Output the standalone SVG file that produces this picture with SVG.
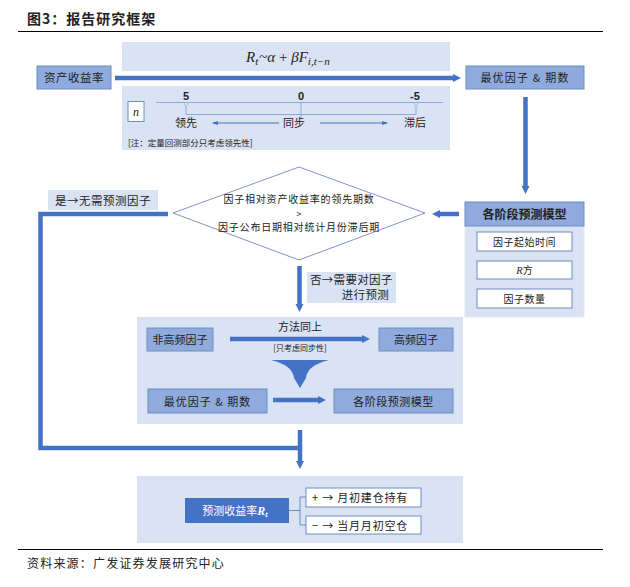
<svg xmlns="http://www.w3.org/2000/svg" width="630" height="587" viewBox="0 0 630 587">
<style>
  .cjk { font-family: "Noto Sans CJK SC", "Noto Sans", sans-serif; fill: #222; }
  .panel { fill: #DAE3F3; }
  .box { fill: #8FAADC; stroke: #6C8EBF; stroke-width: 1; }
  .wbox { fill: #FFFFFF; stroke: #6C8EBF; stroke-width: 1; }
  .thick { fill: none; stroke: #4472C4; stroke-width: 4.5; }
  .thin { fill: none; stroke: #8FAADC; stroke-width: 1; }
  .math { font-family: "Liberation Serif", "DejaVu Serif", serif; font-style: italic; fill: #222; }
</style>
<defs>
  <marker id="ah" markerWidth="10" markerHeight="10" refX="2" refY="5" orient="auto" markerUnits="userSpaceOnUse">
    <path d="M0,1 L8,5 L0,9 Z" fill="#4472C4"/>
  </marker>
  <marker id="ahs" markerWidth="6" markerHeight="6" refX="5" refY="3" orient="auto" markerUnits="userSpaceOnUse">
    <path d="M0,1 L6,3 L0,5 Z" fill="#4472C4"/>
  </marker>
</defs>

<!-- title and rules -->
<text x="27" y="24" class="cjk" font-size="14" font-weight="bold" letter-spacing="1">图3：报告研究框架</text>
<line x1="18" y1="31.5" x2="603" y2="31.5" stroke="#000" stroke-width="1"/>
<line x1="18" y1="549.5" x2="603" y2="549.5" stroke="#000" stroke-width="1"/>
<text x="27" y="568" class="cjk" font-size="12" letter-spacing="1.2">资料来源：广发证券发展研究中心</text>

<!-- top panels -->
<g id="formula">
  <rect x="122" y="42" width="328" height="29" class="panel"/>
  <text x="246" y="62" class="math" font-size="15">R<tspan font-size="11" dy="3">t</tspan><tspan dy="-3" dx="1" font-style="normal">~</tspan>α<tspan font-style="normal"> + </tspan>βF<tspan font-size="11" dy="3">i,t−n</tspan></text>
</g>
<g id="timeline">
  <rect x="122" y="86" width="328" height="64" class="panel"/>
  <rect x="128" y="101.5" width="16" height="20" class="wbox"/>
  <text x="136" y="116" class="math" font-size="12" text-anchor="middle">n</text>
  <line x1="156" y1="102.5" x2="443" y2="102.5" class="thin"/>
  <polyline points="186,102.5 186,114.5 416,114.5 416,102.5" class="thin"/>
  <line x1="301" y1="102.5" x2="301" y2="118" class="thin"/>
  <circle cx="186" cy="104" r="1.5" fill="#fff" stroke="#8FAADC" stroke-width="0.8"/>
  <circle cx="416" cy="104" r="1.5" fill="#fff" stroke="#8FAADC" stroke-width="0.8"/>
  <text x="186" y="100" font-family="Liberation Sans, Arial, sans-serif" font-size="11" font-weight="bold" text-anchor="middle" fill="#222">5</text>
  <text x="301" y="100" font-family="Liberation Sans, Arial, sans-serif" font-size="11" font-weight="bold" text-anchor="middle" fill="#222">0</text>
  <text x="415" y="100" font-family="Liberation Sans, Arial, sans-serif" font-size="11" font-weight="bold" text-anchor="middle" fill="#222">-5</text>
  <text x="186" y="127" class="cjk" font-size="11" text-anchor="middle" fill="#444">领先</text>
  <text x="294" y="127" class="cjk" font-size="11" text-anchor="middle" fill="#444">同步</text>
  <text x="415" y="127" class="cjk" font-size="11" text-anchor="middle" fill="#444">滞后</text>
  <line x1="279" y1="123" x2="213" y2="123" stroke="#4472C4" stroke-width="1" marker-end="url(#ahs)"/>
  <line x1="320" y1="123" x2="387" y2="123" stroke="#4472C4" stroke-width="1" marker-end="url(#ahs)"/>
  <text x="128" y="146" class="cjk" font-size="8.5" fill="#444">[注：定量回测部分只考虑领先性]</text>
</g>

<!-- nodes -->
<g id="asset-return">
  <rect x="37" y="66" width="74" height="23" class="box"/>
  <text x="74" y="82" class="cjk" font-size="11.5" text-anchor="middle" letter-spacing="0.5">资产收益率</text>
</g>
<g id="best-factor-top">
  <rect x="466" y="66" width="118" height="23" class="box"/>
  <text x="525" y="82" class="cjk" font-size="11" text-anchor="middle" letter-spacing="1.2">最优因子 &amp; 期数</text>
</g>
<g id="stage-model">
  <rect x="465" y="226" width="119" height="91" class="panel" stroke="#E3E9F5" stroke-width="1"/>
  <rect x="465" y="202" width="119" height="24" class="box" stroke="#4F76C0"/>
  <text x="524.5" y="219" class="cjk" font-size="12" font-weight="bold" text-anchor="middle">各阶段预测模型</text>
  <rect x="477" y="232" width="95" height="19" class="wbox"/>
  <text x="524.5" y="245.5" class="cjk" font-size="10" text-anchor="middle" letter-spacing="0.5">因子起始时间</text>
  <rect x="477" y="261" width="95" height="18" class="wbox"/>
  <text x="524.5" y="274" class="cjk" font-size="10" text-anchor="middle"><tspan class="math" font-size="10.5">R</tspan>方</text>
  <rect x="477" y="289" width="95" height="19" class="wbox"/>
  <text x="524.5" y="302.5" class="cjk" font-size="10" text-anchor="middle" letter-spacing="0.5">因子数量</text>
</g>
<g id="decision">
  <polygon points="173,213 299,167 425,213 299,260" fill="#FFFFFF" stroke="#7F96C8" stroke-width="1"/>
  <text x="299" y="203" class="cjk" font-size="10" text-anchor="middle" letter-spacing="0.8">因子相对资产收益率的领先期数</text>
  <text x="299" y="216.5" class="cjk" font-size="9" text-anchor="middle">&gt;</text>
  <text x="299" y="231" class="cjk" font-size="10" text-anchor="middle" letter-spacing="0.8">因子公布日期相对统计月份滞后期</text>
</g>
<g id="label-yes">
  <rect x="48" y="190" width="110" height="20" class="panel"/>
  <text x="103" y="204.5" class="cjk" font-size="11.5" text-anchor="middle" letter-spacing="0.5">是→无需预测因子</text>
</g>
<g id="label-no">
  <rect x="307" y="272" width="89" height="31" class="panel"/>
  <text x="310" y="284" class="cjk" font-size="11.5" letter-spacing="0.3">否→需要对因子</text>
  <text x="389" y="299" class="cjk" font-size="11.5" text-anchor="end" letter-spacing="0.3">进行预测</text>
</g>
<g id="middle-panel">
  <rect x="137" y="317" width="326" height="107" class="panel"/>
  <rect x="147" y="328" width="66" height="23" class="box"/>
  <text x="180" y="344" class="cjk" font-size="11" text-anchor="middle">非高频因子</text>
  <rect x="379" y="328" width="74" height="23" class="box"/>
  <text x="416" y="344" class="cjk" font-size="11" text-anchor="middle">高频因子</text>
  <text x="300" y="331" class="cjk" font-size="11" text-anchor="middle">方法同上</text>
  <text x="300" y="351" class="cjk" font-size="8" text-anchor="middle" fill="#444">[只考虑同步性]</text>
  <path d="M271,360 L329,360 C313,364 307,370 306,378 L300,388 L294,378 C293,370 287,364 271,360 Z" fill="#4472C4"/>
  <rect x="148" y="389" width="119" height="24" class="box"/>
  <text x="207.5" y="405.5" class="cjk" font-size="11" text-anchor="middle" letter-spacing="1">最优因子 &amp; 期数</text>
  <rect x="334" y="389" width="119" height="24" class="box"/>
  <text x="393.5" y="405.5" class="cjk" font-size="11" text-anchor="middle" letter-spacing="0.5">各阶段预测模型</text>
</g>
<g id="bottom-panel">
  <rect x="137" y="476" width="326" height="67" class="panel"/>
  <rect x="185" y="498" width="104" height="25" fill="#4472C4"/>
  <text x="235" y="515" class="cjk" font-size="11" text-anchor="middle" fill="#FFFFFF" style="fill:#FFFFFF">预测收益率<tspan font-family="Liberation Serif, serif" font-style="italic" font-weight="bold" font-size="12">R</tspan><tspan font-family="Liberation Serif, serif" font-style="italic" font-weight="bold" font-size="8.5" dy="2">t</tspan></text>
  <rect x="306" y="488" width="115" height="19" class="wbox"/>
  <text x="312" y="501.5" class="cjk" font-size="11" letter-spacing="0.8">+ → 月初建仓持有</text>
  <rect x="306" y="516" width="115" height="18" class="wbox"/>
  <text x="312" y="529.5" class="cjk" font-size="11" letter-spacing="0.8">− → 当月月初空仓</text>
</g>

<!-- connectors -->
<g id="connectors">
  <line x1="115" y1="78" x2="455" y2="78" class="thick" stroke-width="4" marker-end="url(#ah)"/>
  <line x1="525.5" y1="97" x2="525.5" y2="188" class="thick" stroke-width="4" marker-end="url(#ah)"/>
  <line x1="459" y1="214" x2="438" y2="214" class="thick" stroke-width="4" marker-end="url(#ah)"/>
  <line x1="299.5" y1="266" x2="299.5" y2="306" class="thick" stroke-width="4" marker-end="url(#ah)"/>
  <polyline points="168,214 40.5,214 40.5,448 300,448" class="thick"/>
  <line x1="300" y1="430" x2="300" y2="463" class="thick" stroke-width="4" marker-end="url(#ah)"/>
  <line x1="230" y1="339" x2="364" y2="339" class="thick" stroke-width="4" marker-end="url(#ah)"/>
  <line x1="273" y1="400" x2="320" y2="400" class="thick" stroke-width="4" marker-end="url(#ah)"/>
  <polyline points="289,510.5 300,510.5" fill="none" stroke="#6C8EBF" stroke-width="1"/>
  <polyline points="306,497 300,497 300,525 306,525" fill="none" stroke="#6C8EBF" stroke-width="1"/>
</g>
</svg>
